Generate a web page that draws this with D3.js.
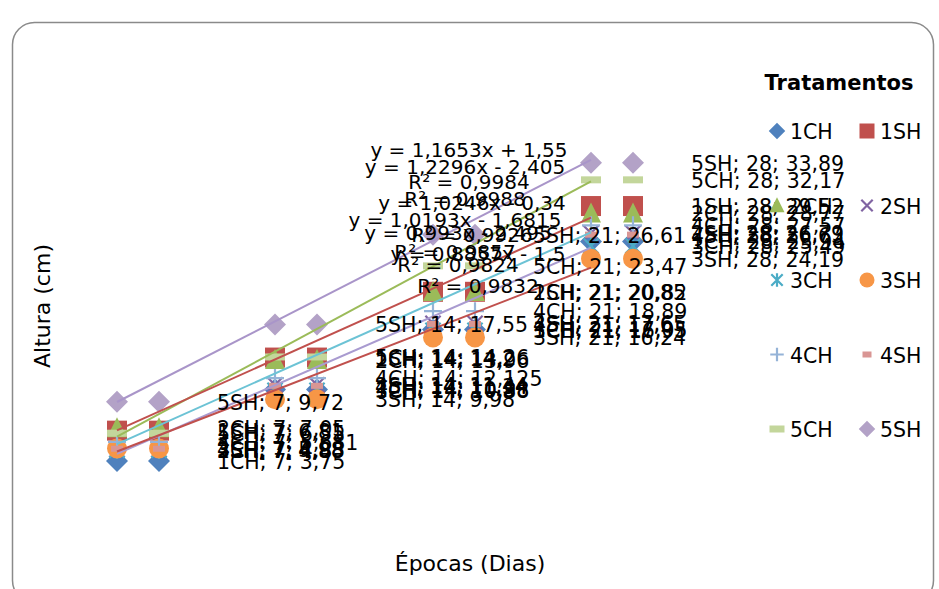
<!DOCTYPE html>
<html>
<head>
<meta charset="utf-8">
<script src="https://cdn.jsdelivr.net/npm/d3@7/dist/d3.min.js"></script>
<style>
  html, body { margin: 0; padding: 0; background: #ffffff; }
  svg { display: block; }
  text { font-family: "DejaVu Sans", sans-serif; fill: #000; }
</style>
</head>
<body>
<svg id="chart" width="939" height="589"></svg>
<script>
// Sampling days (x) and plant height in cm (y) for each treatment
const days = [7, 14, 21, 28];
const treatments = ["1CH", "1SH", "2CH", "2SH", "3CH", "3SH", "4CH", "4SH", "5CH", "5SH"];
const h1CH = [3.75, 10.98, 17.05, 25.94];
const h1SH = [6.81, 14.20, 20.85, 29.52];
const h2CH = [7.05, 13.96, 20.82, 28.77];
const h2SH = [4.88, 11.44, 17.65, 26.79];
const h3CH = [4.85, 10.88, 16.95, 25.49];
const h3SH = [5.00, 9.98, 16.24, 24.19];
const h4CH = [5.681, 12.125, 18.89, 27.57];
const h4SH = [4.98, 11.34, 17.60, 26.63];
const h5CH = [6.55, 14.26, 23.47, 32.17];
const h5SH = [9.72, 17.55, 26.61, 33.89];

// Linear trendlines (slope, intercept, R²)
const trendOf = ["5SH", "5CH", "1SH", "4CH", "3CH", "3SH"];
const trendSlope = [1.1653, 1.2296, 1.0246, 1.0193, 0.9930, 0.8857];
const trendIntercept = [1.55, -2.405, -0.34, -1.6815, -2.495, -1.5];
const trendR2 = [0.9984, 0.9988, 0.9926, 0.9857, 0.9824, 0.9832];

const heights = [h1CH, h1SH, h2CH, h2SH, h3CH, h3SH, h4CH, h4SH, h5CH, h5SH];

// ---- styling ----
const colors = {
  "1CH": "#4F81BD", "1SH": "#C0504D", "2CH": "#9BBB59", "2SH": "#8064A2",
  "3CH": "#4BACC6", "3SH": "#F79646", "4CH": "#95B3D7", "4SH": "#D99694",
  "5CH": "#C3D69B", "5SH": "#B3A2C7"
};
const shapes = {
  "1CH": "diamond", "1SH": "square", "2CH": "triangle", "2SH": "x",
  "3CH": "star", "3SH": "circle", "4CH": "plus", "4SH": "dashSmall",
  "5CH": "dash", "5SH": "diamond"
};
const trendColors = ["#A995C9", "#9BBB59", "#C0504D", "#6CC3D5", "#A99BD0", "#C0504D"];
// equation box centres (x, first-line y)
const eqBoxes = [[469, 150], [465, 167], [472, 203], [455, 220], [458, 233], [478, 254]];
const eqLineGap = 32;

const svg = d3.select("#chart");

// outer rounded frame
svg.append("rect")
  .attr("x", 12.5).attr("y", 22.5)
  .attr("width", 921).attr("height", 580)
  .attr("rx", 22).attr("ry", 22)
  .attr("fill", "#fff").attr("stroke", "#8a8a8a").attr("stroke-width", 1.5);

const x = d3.scaleLinear().domain([7, 28]).range([117, 591]);
const y = d3.scaleLinear().domain([0, 35]).range([498, 498 - 35 * 9.89]);

const pairOffset = 42;   // second marker column
const labelOffset = 100; // data label start

// square diamond path
function squareDiamond(s) {
  const r = s / 2;
  return `M0,${-r}L${r},0L0,${r}L${-r},0Z`;
}

function drawMarker(g, shape, color, s) {
  switch (shape) {
    case "diamond":
      g.append("path").attr("d", squareDiamond(s * 1.1)).attr("fill", color);
      break;
    case "square":
      g.append("rect").attr("x", -s / 2).attr("y", -s / 2).attr("width", s).attr("height", s).attr("fill", color);
      break;
    case "triangle":
      g.append("path").attr("d", `M0,${-s * 0.55}L${s * 0.5},${s * 0.45}L${-s * 0.5},${s * 0.45}Z`).attr("fill", color);
      break;
    case "circle":
      g.append("circle").attr("r", s / 2).attr("fill", color);
      break;
    case "x":
      g.append("path").attr("d", `M${-s * 0.38},${-s * 0.38}L${s * 0.38},${s * 0.38}M${-s * 0.38},${s * 0.38}L${s * 0.38},${-s * 0.38}`)
        .attr("stroke", color).attr("stroke-width", 2.2).attr("fill", "none");
      break;
    case "star":
      g.append("path").attr("d", `M${-s * 0.38},${-s * 0.38}L${s * 0.38},${s * 0.38}M${-s * 0.38},${s * 0.38}L${s * 0.38},${-s * 0.38}M0,${-s * 0.45}L0,${s * 0.45}`)
        .attr("stroke", color).attr("stroke-width", 2.2).attr("fill", "none");
      break;
    case "plus":
      g.append("path").attr("d", `M${-s * 0.45},0L${s * 0.45},0M0,${-s * 0.45}L0,${s * 0.45}`)
        .attr("stroke", color).attr("stroke-width", 2.2).attr("fill", "none");
      break;
    case "dash":
      g.append("rect").attr("x", -s / 2).attr("y", -3.5).attr("width", s).attr("height", 7).attr("fill", color);
      break;
    case "dashSmall":
      g.append("rect").attr("x", -s * 0.3).attr("y", -3).attr("width", s * 0.6).attr("height", 6).attr("fill", color);
      break;
  }
}

// ---- markers ----
const markerLayer = svg.append("g");
treatments.forEach((name, i) => {
  const vals = heights[i];
  days.forEach((d, j) => {
    [0, pairOffset].forEach(off => {
      const g = markerLayer.append("g").attr("transform", `translate(${x(d) + off},${y(vals[j])})`);
      drawMarker(g, shapes[name], colors[name], 20);
    });
  });
});

// ---- trendlines ----
const trendLayer = svg.append("g");
trendOf.forEach((name, k) => {
  const f = t => trendSlope[k] * t + trendIntercept[k];
  const d0 = days[0], d1 = days[days.length - 1];
  trendLayer.append("line")
    .attr("x1", x(d0)).attr("y1", y(f(d0)))
    .attr("x2", x(d1)).attr("y2", y(f(d1)))
    .attr("stroke", trendColors[k]).attr("stroke-width", 2);
});

// ---- data labels ----
const fmt = v => String(v).replace(".", ",");
const labelLayer = svg.append("g");
treatments.forEach((name, i) => {
  heights[i].forEach((v, j) => {
    labelLayer.append("text")
      .attr("x", x(days[j]) + labelOffset)
      .attr("y", y(v) + 1)
      .attr("dominant-baseline", "central")
      .attr("font-size", 20.5)
      .text(`${name}; ${days[j]}; ${fmt(v)}`);
  });
});

// ---- trendline equations ----
const eqLayer = svg.append("g");
trendOf.forEach((name, k) => {
  const b = trendIntercept[k];
  const eq = `y = ${fmt(trendSlope[k])}x ${b < 0 ? "-" : "+"} ${fmt(Math.abs(b))}`;
  const t = eqLayer.append("text")
    .attr("x", eqBoxes[k][0]).attr("y", eqBoxes[k][1])
    .attr("text-anchor", "middle")
    .attr("dominant-baseline", "central")
    .attr("font-size", 20);
  t.append("tspan").attr("x", eqBoxes[k][0]).text(eq);
  t.append("tspan").attr("x", eqBoxes[k][0]).attr("dy", eqLineGap).text(`R² = ${fmt(trendR2[k])}`);
});

// ---- axis titles ----
svg.append("text")
  .attr("transform", "translate(42,306) rotate(-90)")
  .attr("text-anchor", "middle").attr("dominant-baseline", "central")
  .attr("font-size", 22).text("Altura (cm)");
svg.append("text")
  .attr("x", 470).attr("y", 563)
  .attr("text-anchor", "middle").attr("dominant-baseline", "central")
  .attr("font-size", 22).text("Épocas (Dias)");

// ---- legend ----
const legend = svg.append("g");
legend.append("text")
  .attr("x", 839).attr("y", 83)
  .attr("text-anchor", "middle").attr("dominant-baseline", "central")
  .attr("font-size", 21).attr("font-weight", "bold").text("Tratamentos");
treatments.forEach((name, i) => {
  const col = i % 2, row = Math.floor(i / 2);
  const mx = col === 0 ? 777 : 867;
  const my = 131 + row * 74.5;
  const g = legend.append("g").attr("transform", `translate(${mx},${my})`);
  drawMarker(g, shapes[name], colors[name], 15);
  legend.append("text")
    .attr("x", mx + 13).attr("y", my + 1)
    .attr("dominant-baseline", "central")
    .attr("font-size", 20.5).text(name);
});
</script>
</body>
</html>
